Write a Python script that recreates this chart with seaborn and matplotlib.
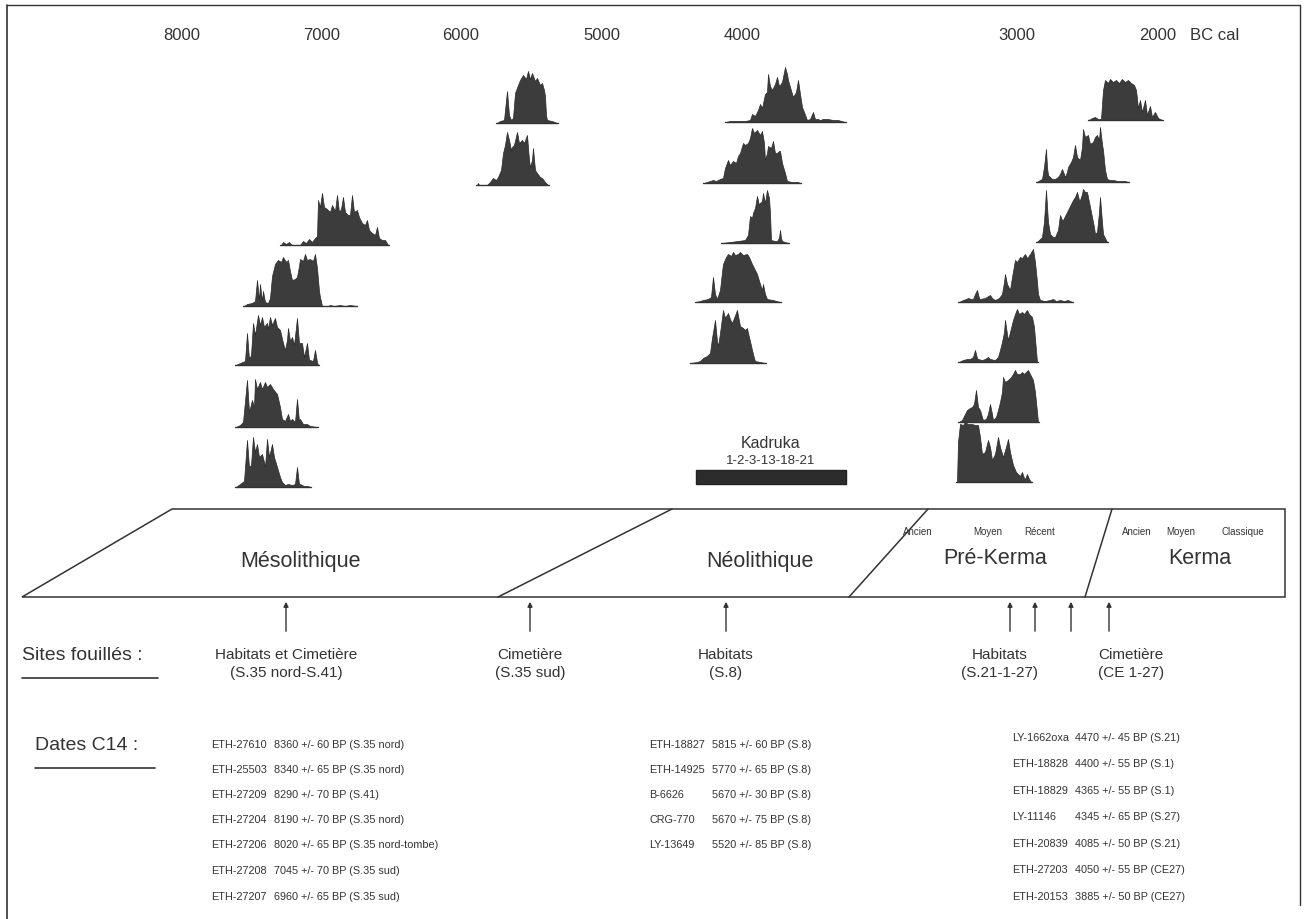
import matplotlib
matplotlib.use("Agg")
import matplotlib.pyplot as plt
from matplotlib import font_manager
from matplotlib.patches import Polygon, Rectangle
import seaborn as sns
import numpy as np

# ---------------------------------------------------------------
# data (x in chart units along the BC cal axis, h = relative probability height)
# ---------------------------------------------------------------
year_labels = ["8000", "7000", "6000", "5000", "4000", "3000", "2000"]
year_pos = [182, 322, 461, 602, 742, 1017, 1158]

meso_profiles = [
    [(281,0),(283,3),(286,1),(289,3),(292,0),(300,0),(303,4),(306,2),(309,6),(312,3),(315,7),(317,9),
     (318,45),(320,38),(322,52),(324,38),(327,36),(330,33),(332,40),(335,34),(337,50),(339,33),(341,36),
     (343,48),(345,33),(348,30),(350,30),(352,50),(354,33),(357,35),(359,28),(362,22),(365,20),(367,25),
     (369,15),(372,12),(375,10),(377,18),(379,7),(382,5),(385,5),(388,0)],
    [(244,0),(247,2),(252,3),(255,5),(257,26),(259,6),(260,22),(262,5),(263,15),(265,4),(268,3),(270,8),
     (272,30),(275,42),(278,46),(281,44),(283,49),(286,44),(288,46),(290,35),(292,26),(295,27),(297,29),
     (299,40),(300,47),(303,45),(305,52),(307,46),(310,47),(313,45),(315,52),(317,38),(319,15),(320,9),
     (322,0),(328,0),(330,1),(334,0),(340,1),(345,0),(350,1),(356,0)],
    [(236,0),(240,2),(245,4),(247,32),(249,6),(251,10),(253,42),(255,30),(258,50),(260,40),(262,48),
     (264,38),(267,42),(268,36),(270,48),(272,40),(275,47),(277,38),(280,35),(283,22),(285,15),(287,25),
     (288,37),(290,24),(292,28),(294,20),(297,47),(299,22),(302,22),(304,8),(307,22),(309,5),(310,5),
     (313,4),(315,15),(317,3),(318,0)],
    [(236,0),(240,2),(243,5),(247,47),(249,15),(252,27),(254,20),(255,48),(257,38),(260,45),(262,38),
     (265,45),(267,40),(270,43),(273,38),(277,33),(280,20),(282,8),(285,6),(288,13),(290,6),(292,8),
     (295,5),(297,28),(299,6),(300,8),(303,3),(307,3),(310,1),(317,0)],
    [(236,0),(240,3),(244,6),(247,47),(249,20),(251,22),(253,50),(255,35),(257,43),(259,30),(262,33),
     (264,25),(265,20),(267,48),(269,30),(272,43),(274,30),(277,20),(280,10),(282,5),(285,2),(288,3),
     (292,2),(295,3),(297,20),(299,3),(300,3),(304,1),(308,1),(310,0)],
]

cim_profiles = [
    [(497,0),(500,2),(504,3),(507,32),(509,8),(511,3),(513,5),(515,30),(518,38),(520,43),(523,48),
     (526,44),(528,52),(530,44),(532,50),(535,42),(537,45),(540,38),(542,40),(544,33),(545,27),(546,8),
     (547,3),(552,2),(557,0)],
    [(477,0),(478,2),(479,0),(487,0),(490,3),(493,7),(496,5),(498,8),(501,15),(503,32),(505,40),(507,53),
     (509,45),(511,35),(512,38),(514,40),(517,53),(519,42),(522,45),(524,42),(527,50),(529,25),(530,18),
     (532,25),(533,37),(535,15),(537,12),(540,8),(542,7),(545,3),(548,0)],
]

neo_profiles = [
    [(726,0),(730,1),(745,1),(750,2),(752,8),(755,6),(758,12),(760,18),(762,14),(765,28),(767,30),
     (768,48),(770,36),(772,32),(775,38),(777,45),(779,36),(780,37),(782,40),(785,55),(787,48),(788,42),
     (790,35),(793,25),(796,30),(798,42),(800,28),(802,15),(804,10),(807,2),(810,3),(813,10),(815,3),
     (818,3),(820,2),(823,3),(828,3),(833,2),(838,2),(845,0)],
    [(704,0),(710,2),(713,3),(716,2),(720,4),(723,5),(725,15),(728,23),(730,18),(733,22),(736,20),
     (738,27),(740,30),(743,40),(745,38),(748,40),(750,45),(752,55),(754,50),(757,53),(760,48),(762,52),
     (764,40),(765,23),(767,30),(768,37),(771,35),(773,42),(775,30),(777,30),(779,32),(780,32),(782,20),
     (785,10),(787,2),(792,1),(798,1),(800,0)],
    [(722,0),(730,1),(738,2),(745,3),(748,8),(750,27),(752,25),(753,30),(755,35),(757,47),(759,38),
     (760,40),(762,42),(763,50),(765,40),(767,53),(769,45),(770,30),(771,3),(775,2),(777,2),(779,5),
     (780,13),(781,5),(782,2),(788,0)],
    [(696,0),(700,1),(703,2),(708,3),(711,5),(713,25),(715,8),(717,3),(720,12),(722,30),(723,38),
     (726,45),(728,48),(731,46),(733,50),(735,47),(738,48),(740,50),(743,47),(747,48),(749,45),(752,38),
     (755,32),(757,28),(760,18),(762,12),(763,18),(765,8),(767,3),(773,2),(780,0)],
    [(691,0),(697,1),(700,2),(703,5),(707,7),(710,10),(712,25),(715,43),(717,22),(718,17),(720,30),
     (723,53),(725,45),(728,50),(730,44),(732,40),(734,45),(737,53),(739,42),(740,37),(743,35),(745,33),
     (747,35),(748,30),(750,22),(752,13),(754,5),(755,2),(760,1),(765,0)],
]

kerma_profiles = [
    [(1089,0),(1092,2),(1095,3),(1098,1),(1101,1),(1103,30),(1105,40),(1108,37),(1110,41),(1113,38),
     (1116,40),(1119,37),(1122,41),(1125,38),(1128,40),(1131,37),(1134,35),(1136,30),(1138,12),(1140,20),
     (1142,8),(1145,20),(1147,5),(1150,14),(1152,3),(1155,8),(1158,2),(1162,0)],
    [(1037,0),(1040,2),(1042,3),(1044,15),(1046,33),(1047,15),(1048,7),(1052,3),(1055,3),(1058,5),
     (1060,8),(1062,13),(1064,8),(1065,5),(1067,10),(1068,15),(1071,20),(1073,25),(1075,37),(1077,25),
     (1080,22),(1082,35),(1083,53),(1085,45),(1088,47),(1090,38),(1093,40),(1095,45),(1097,47),(1099,42),
     (1100,55),(1102,38),(1103,32),(1105,12),(1107,3),(1110,2),(1113,2),(1118,1),(1125,1),(1128,0)],
    [(1037,0),(1040,3),(1042,5),(1044,20),(1046,52),(1048,20),(1050,8),(1053,5),(1055,5),(1058,12),
     (1060,27),(1062,22),(1063,22),(1066,28),(1068,32),(1071,38),(1073,42),(1075,45),(1077,50),(1079,42),
     (1080,42),(1082,48),(1083,53),(1085,50),(1087,50),(1089,40),(1092,25),(1094,15),(1095,8),(1097,10),
     (1099,30),(1100,45),(1102,20),(1103,8),(1105,4),(1107,0)],
    [(959,0),(963,2),(966,3),(968,4),(971,3),(973,3),(975,8),(977,12),(979,4),(980,3),(985,4),(990,7),
     (992,4),(995,2),(999,4),(1002,8),(1004,20),(1005,28),(1007,18),(1010,12),(1012,25),(1015,42),
     (1017,40),(1020,45),(1022,44),(1025,48),(1027,44),(1028,45),(1030,48),(1033,53),(1035,40),(1037,20),
     (1038,8),(1040,2),(1045,1),(1050,2),(1053,3),(1056,1),(1060,2),(1064,1),(1068,2),(1072,0)],
    [(959,0),(963,2),(967,3),(970,3),(973,5),(975,12),(977,4),(978,3),(982,2),(985,3),(988,5),(990,3),
     (995,2),(998,5),(1000,12),(1002,20),(1004,30),(1005,42),(1007,28),(1008,22),(1010,30),(1013,42),
     (1015,48),(1017,53),(1019,48),(1022,50),(1024,48),(1027,52),(1029,48),(1032,45),(1034,35),(1037,0)],
    [(959,0),(962,2),(965,8),(967,12),(970,14),(972,15),(974,18),(976,32),(978,15),(980,12),(982,5),
     (983,2),(986,3),(988,8),(990,18),(992,8),(993,2),(996,5),(998,12),(1000,20),(1002,30),(1003,45),
     (1005,40),(1008,42),(1011,45),(1013,48),(1015,52),(1017,48),(1020,48),(1022,50),(1024,48),(1026,50),
     (1028,52),(1030,48),(1033,42),(1035,30),(1038,0)],
    [(957,0),(958,40),(960,58),(963,57),(965,60),(968,58),(972,58),(975,57),(978,57),(980,45),(982,28),
     (985,30),(988,42),(990,35),(992,22),(995,28),(998,45),(1000,35),(1003,25),(1006,35),(1008,43),
     (1010,30),(1013,17),(1016,10),(1018,8),(1020,6),(1022,10),(1024,4),(1025,3),(1027,8),(1029,3),
     (1031,0)],
]

# Kadruka range
kadruka_range = (696, 846)

periods = ["Mésolithique", "Néolithique", "Pré-Kerma", "Kerma"]
pk_phases = ["Ancien", "Moyen", "Récent"]
k_phases = ["Ancien", "Moyen", "Classique"]

sites = [("Habitats et Cimetière", "(S.35 nord-S.41)"), ("Cimetière", "(S.35 sud)"),
         ("Habitats", "(S.8)"), ("Habitats", "(S.21-1-27)"), ("Cimetière", "(CE 1-27)")]
site_arrows = [286, 530, 726, 1010, 1035, 1071, 1109]

dates_meso = [("ETH-27610", "8360 +/- 60 BP (S.35 nord)"), ("ETH-25503", "8340 +/- 65 BP (S.35 nord)"),
              ("ETH-27209", "8290 +/- 70 BP (S.41)"), ("ETH-27204", "8190 +/- 70 BP (S.35 nord)"),
              ("ETH-27206", "8020 +/- 65 BP (S.35 nord-tombe)"), ("ETH-27208", "7045 +/- 70 BP (S.35 sud)"),
              ("ETH-27207", "6960 +/- 65 BP (S.35 sud)")]
dates_neo = [("ETH-18827", "5815 +/- 60 BP (S.8)"), ("ETH-14925", "5770 +/- 65 BP (S.8)"),
             ("B-6626", "5670 +/- 30 BP (S.8)"), ("CRG-770", "5670 +/- 75 BP (S.8)"),
             ("LY-13649", "5520 +/- 85 BP (S.8)")]
dates_kerma = [("LY-1662oxa", "4470 +/- 45 BP (S.21)"), ("ETH-18828", "4400 +/- 55 BP (S.1)"),
               ("ETH-18829", "4365 +/- 55 BP (S.1)"), ("LY-11146", "4345 +/- 65 BP (S.27)"),
               ("ETH-20839", "4085 +/- 50 BP (S.21)"), ("ETH-27203", "4050 +/- 55 BP (CE27)"),
               ("ETH-20153", "3885 +/- 50 BP (CE27)")]

# ---------------------------------------------------------------
# style
# ---------------------------------------------------------------
sns.set_theme(style="white")
names = {f.name for f in font_manager.fontManager.ttflist}
fam = "Liberation Sans Narrow" if "Liberation Sans Narrow" in names else "Liberation Sans"
plt.rcParams["font.family"] = [fam, "DejaVu Sans"]
ink = "#333333"
fill = "#3c3c3c"
small = 7.8

fig = plt.figure(figsize=(13.07, 9.19), dpi=100)
ax = fig.add_axes([0, 0, 1, 1])
ax.set_xlim(0, 1307)
ax.set_ylim(919, 0)
ax.axis("off")

# outer frame
ax.plot([7, 1300], [5, 5], color=ink, lw=1)
ax.plot([7, 7], [5, 919], color=ink, lw=1.2)
ax.plot([1300, 1300], [5, 905], color=ink, lw=1)

# top scale
for lab, xp in zip(year_labels, year_pos):
    ax.text(xp, 35, lab, ha="center", va="center", fontsize=12, color=ink)
ax.text(1190, 35, "BC cal", ha="left", va="center", fontsize=12, color=ink)


def draw_profile(profile, base):
    xs = np.array([p[0] for p in profile], dtype=float)
    hs = np.array([p[1] for p in profile], dtype=float)
    ax.plot([xs.min() - 1, xs.max() + 1], [base, base], color=ink, lw=1.0)
    ax.fill_between(xs, base, base - hs, color=fill, lw=0.5, edgecolor="#2a2a2a")


for prof, base in zip(meso_profiles, [245, 306, 365, 427, 487]):
    draw_profile(prof, base)
for prof, base in zip(cim_profiles, [123, 185]):
    draw_profile(prof, base)
for prof, base in zip(neo_profiles, [122, 183, 243, 302, 363]):
    draw_profile(prof, base)
for prof, base in zip(kerma_profiles, [120, 182, 242, 302, 362, 422, 482]):
    draw_profile(prof, base)

# Kadruka bar
ax.add_patch(Rectangle((kadruka_range[0], 470), kadruka_range[1] - kadruka_range[0], 14,
                       facecolor="#2c2c2c", edgecolor="#222222", lw=1))
ax.text(771, 444, "Kadruka", ha="center", va="center", fontsize=11.5, color=ink)
ax.text(771, 461, "1-2-3-13-18-21", ha="center", va="center", fontsize=9.5, color=ink)

# period band
band_top, band_bot = 509, 597
outline = [(22, band_bot), (172, band_top), (1285, band_top), (1285, band_bot)]
ax.add_patch(Polygon(outline, closed=True, fill=False, edgecolor=ink, lw=1.1))
for (xb, xt) in [(498, 672), (849, 928), (1085, 1112)]:
    ax.plot([xb, xt], [band_bot, band_top], color=ink, lw=1.1)

ax.text(300, 562, periods[0], ha="center", va="center", fontsize=15.5, color=ink)
ax.text(760, 562, periods[1], ha="center", va="center", fontsize=15.5, color=ink)
ax.text(995, 558, periods[2], ha="center", va="center", fontsize=15.5, color=ink)
ax.text(1200, 558, periods[3], ha="center", va="center", fontsize=15.5, color=ink)
for lab, xp in zip(pk_phases, [918, 988, 1040]):
    ax.text(xp, 532, lab, ha="center", va="center", fontsize=7, color=ink)
for lab, xp in zip(k_phases, [1137, 1181, 1243]):
    ax.text(xp, 532, lab, ha="center", va="center", fontsize=7, color=ink)

# arrows to excavated sites
for xp in site_arrows:
    ax.annotate("", xy=(xp, 599), xytext=(xp, 634),
                arrowprops=dict(arrowstyle="-|>", color=ink, lw=1, mutation_scale=7))

ax.text(22, 656, "Sites fouillés :", ha="left", va="center", fontsize=14, color=ink)
ax.plot([22, 158], [678, 678], color=ink, lw=1.2)
for (l1, l2), xp in zip(sites, [286, 530, 726, 1000, 1131]):
    ax.text(xp, 655, l1, ha="center", va="center", fontsize=11, color=ink)
    ax.text(xp, 673, l2, ha="center", va="center", fontsize=11, color=ink)

# radiocarbon dates
ax.text(35, 745, "Dates C14 :", ha="left", va="center", fontsize=14, color=ink)
ax.plot([35, 155], [768, 768], color=ink, lw=1.2)
row_y = [745, 770, 795, 820, 845, 871, 897]
for (code, val), y in zip(dates_meso, row_y):
    ax.text(211, y, code, ha="left", va="center", fontsize=small, color=ink)
    ax.text(274, y, val, ha="left", va="center", fontsize=small, color=ink)
for (code, val), y in zip(dates_neo, row_y):
    ax.text(649, y, code, ha="left", va="center", fontsize=small, color=ink)
    ax.text(712, y, val, ha="left", va="center", fontsize=small, color=ink)
for (code, val), y in zip(dates_kerma, [738, 764, 791, 817, 844, 870, 897]):
    ax.text(1012, y, code, ha="left", va="center", fontsize=small, color=ink)
    ax.text(1075, y, val, ha="left", va="center", fontsize=small, color=ink)

fig.savefig("out.png", dpi=100)
